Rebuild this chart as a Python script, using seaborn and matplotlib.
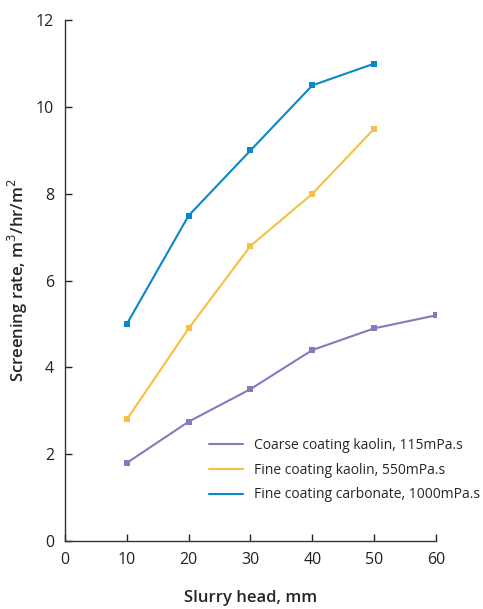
import pandas as pd
import matplotlib.pyplot as plt
import seaborn as sns

# Datos
slurry_head = [10, 20, 30, 40, 50, 60]
coarse_kaolin = [1.8, 2.75, 3.5, 4.4, 4.9, 5.2]
fine_kaolin = [2.8, 4.9, 6.8, 8.0, 9.5]
fine_carbonate = [5.0, 7.5, 9.0, 10.5, 11.0]
series_names = ["Coarse coating kaolin, 115mPa.s",
                "Fine coating kaolin, 550mPa.s",
                "Fine coating carbonate, 1000mPa.s"]
colores = ["#8679c0", "#f6c043", "#0a87c9"]

df = pd.concat([
    pd.DataFrame({"x": slurry_head, "y": coarse_kaolin, "serie": series_names[0]}),
    pd.DataFrame({"x": slurry_head[:5], "y": fine_kaolin, "serie": series_names[1]}),
    pd.DataFrame({"x": slurry_head[:5], "y": fine_carbonate, "serie": series_names[2]}),
])

sns.set_style("ticks")
plt.rcParams['font.family'] = ['Open Sans', 'DejaVu Sans']

fig = plt.figure(figsize=(4.83, 6.09), dpi=100)
ax = fig.add_axes([0.1346, 0.1117, 0.768, 0.855])

sns.lineplot(data=df, x="x", y="y", hue="serie", palette=colores,
             marker="s", markersize=5, markeredgewidth=0, linewidth=1.5, ax=ax)

ax.set_xlim(0, 60)
ax.set_ylim(0, 12)
ax.set_xticks(range(0, 70, 10))
ax.set_yticks(range(0, 14, 2))
ax.tick_params(direction="in", length=5, width=1, labelsize=11.5, colors="#222222", pad=8)
ax.tick_params(axis="y", pad=8)
for s in ["top", "right"]:
    ax.spines[s].set_visible(False)
for s in ["left", "bottom"]:
    ax.spines[s].set_linewidth(1)
    ax.spines[s].set_color("#333333")

ax.set_xlabel("Slurry head, mm", fontsize=12, fontweight="semibold", labelpad=16)
ax.set_ylabel("Screening rate, m$^3$/hr/m$^2$", fontsize=12, fontweight="semibold", labelpad=4)

leg = ax.legend(loc="lower left", bbox_to_anchor=(0.355, 0.05), frameon=False,
                fontsize=10, handlelength=2.4, labelspacing=0.7)
for h in leg.legend_handles:
    h.set_marker("")

plt.savefig("out.png", dpi=100)
